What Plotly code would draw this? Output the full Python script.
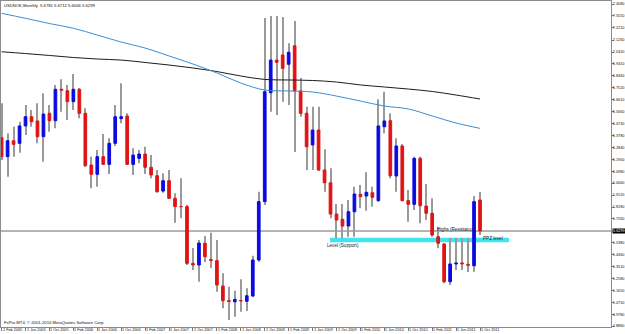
import plotly.graph_objects as go
import pandas as pd

# ---------------- data ----------------
months = [d.strftime("%Y-%m") for d in pd.date_range("2005-02-01", "2011-10-01", freq="MS")]

open_ = [
    6.361, 6.212, 6.337, 6.317, 6.453, 6.525, 6.492, 6.369, 6.552, 6.494,
    6.740, 6.729, 6.643, 6.740, 6.552, 6.147, 6.074, 6.212, 6.152, 6.317,
    6.510, 6.531, 6.152, 6.199, 6.233, 6.129, 6.063, 5.943, 6.024, 5.886,
    5.822, 5.821, 5.376, 5.364, 5.534, 5.407, 5.398, 5.199, 5.086, 5.076,
    5.086, 5.080, 5.121, 5.403, 5.860, 6.713, 6.969, 7.009, 6.936, 7.081,
    6.727, 6.552, 6.304, 6.421, 6.108, 6.008, 5.763, 5.722, 5.669, 5.781,
    5.918, 5.904, 5.930, 5.868, 6.447, 6.494, 6.061, 6.296, 5.868, 5.839,
    6.199, 5.826, 5.769, 5.585, 5.528, 5.233, 5.372, 5.380, 5.369, 5.358,
    5.873]
high = [
    6.630, 6.395, 6.447, 6.486, 6.617, 6.578, 6.630, 6.709, 6.617, 6.774,
    6.818, 6.774, 6.860, 6.750, 6.591, 6.212, 6.265, 6.390, 6.356, 6.617,
    6.787, 6.552, 6.278, 6.265, 6.290, 6.225, 6.108, 6.082, 6.108, 5.925,
    6.043, 5.834, 5.497, 5.560, 5.591, 5.617, 5.560, 5.299, 5.194, 5.163,
    5.252, 5.181, 5.437, 5.938, 7.298, 7.314, 7.314, 7.306, 7.100, 7.275,
    6.828, 6.604, 6.604, 6.604, 6.270, 6.121, 5.842, 5.842, 5.873, 5.977,
    5.990, 6.090, 5.977, 6.662, 6.721, 6.552, 6.356, 6.312, 5.951, 6.212,
    6.212, 5.998, 5.886, 5.664, 5.536, 5.575, 5.575, 5.575, 5.575, 5.904,
    5.935]
low = [
    6.186, 6.055, 6.212, 6.243, 6.382, 6.447, 6.317, 6.173, 6.408, 6.434,
    6.564, 6.499, 6.578, 6.513, 6.131, 5.965, 5.977, 6.147, 6.077, 6.296,
    6.474, 6.147, 6.069, 6.160, 6.077, 6.043, 5.930, 5.930, 5.881, 5.695,
    5.730, 5.364, 5.325, 5.233, 5.387, 5.340, 5.155, 5.025, 4.933, 4.959,
    4.998, 5.004, 5.113, 5.390, 5.834, 6.564, 6.539, 6.643, 6.617, 6.249,
    6.525, 6.108, 6.108, 6.100, 5.938, 5.730, 5.573, 5.573, 5.585, 5.585,
    5.808, 5.789, 5.821, 5.857, 6.395, 6.043, 5.938, 5.861, 5.703, 5.795,
    5.690, 5.716, 5.585, 5.495, 5.220, 5.207, 5.325, 5.325, 5.309, 5.311,
    5.599]
close = [
    6.212, 6.337, 6.309, 6.453, 6.525, 6.486, 6.369, 6.546, 6.494, 6.740,
    6.732, 6.643, 6.740, 6.552, 6.142, 6.074, 6.212, 6.152, 6.317, 6.525,
    6.525, 6.152, 6.225, 6.233, 6.129, 6.069, 5.938, 6.024, 5.886, 5.821,
    5.820, 5.377, 5.364, 5.536, 5.429, 5.399, 5.207, 5.084, 5.078, 5.095,
    5.082, 5.123, 5.403, 5.860, 6.721, 6.969, 6.951, 6.904, 7.030, 6.727,
    6.552, 6.290, 6.421, 6.108, 6.008, 5.763, 5.716, 5.669, 5.781, 5.920,
    5.899, 5.933, 5.894, 6.453, 6.492, 6.063, 6.296, 5.868, 5.839, 6.199,
    5.828, 5.769, 5.599, 5.534, 5.233, 5.372, 5.380, 5.372, 5.361, 5.860,
    5.6299]

# moving averages, read every 4 months
ma_months = months[::4]
ma_fast = [7.335, 7.296, 7.255, 7.218, 7.165, 7.110, 7.063, 7.001, 6.938, 6.868,
           6.789, 6.734, 6.727, 6.719, 6.687, 6.648, 6.609, 6.586, 6.531, 6.476, 6.434]
ma_slow = [7.034, 7.020, 7.005, 6.989, 6.977, 6.969, 6.950, 6.930, 6.907, 6.879,
           6.844, 6.817, 6.813, 6.809, 6.797, 6.774, 6.758, 6.742, 6.723, 6.695, 6.664]

x_tick_labels = ["1 Feb 2005", "1 Jun 2005", "1 Oct 2005", "1 Feb 2006", "1 Jun 2006",
                 "1 Oct 2006", "1 Feb 2007", "1 Jun 2007", "1 Oct 2007", "1 Feb 2008",
                 "1 Jun 2008", "1 Oct 2008", "1 Feb 2009", "1 Jun 2009", "1 Oct 2009",
                 "1 Feb 2010", "1 Jun 2010", "1 Oct 2010", "1 Feb 2011", "1 Jun 2011",
                 "1 Oct 2011"]
y_tick_labels = ["7.4080", "7.3150", "7.2210", "7.1260", "7.0320", "6.9410", "6.8460",
                 "6.7520", "6.6610", "6.5660", "6.4730", "6.3780", "6.2840", "6.1900",
                 "6.0980", "6.0060", "5.9120", "5.8180", "5.7260", "5.5380", "5.4460",
                 "5.3510", "5.2580", "5.1650", "5.0710", "4.9780", "4.8860"]

title_text = "USDNOK,Monthly  5.6781 5.6712 5.6066 5.6299"
copyright_text = "FxPro MT4, © 2001-2010 MetaQuotes Software Corp."
current_price = 5.6299
current_label = "5.6299"
ppz_low, ppz_high = 5.542, 5.578

# ---------------- style ----------------
RED = "#e01414"
BLUE = "#0a0ae0"
WICK = "#9a9a9a"
FONT = "Liberation Sans"
TXT = "#111111"
SMALL = 3.8

body_base = [min(o, c) for o, c in zip(open_, close)]
body_h = [abs(c - o) for o, c in zip(open_, close)]
body_col = [BLUE if c >= o else RED for o, c in zip(open_, close)]
wick_h = [h - l for h, l in zip(high, low)]

fig = go.Figure()
fig.add_trace(go.Bar(x=months, y=wick_h, base=low, width=0.17,
                     marker=dict(color=WICK, line=dict(width=0)), hoverinfo="skip"))
fig.add_trace(go.Bar(x=months, y=body_h, base=body_base, width=0.45,
                     marker=dict(color=body_col, line=dict(color=body_col, width=1))))
fig.add_trace(go.Scatter(x=ma_months, y=ma_slow, mode="lines",
                         line=dict(color="#1c1c1c", width=1, shape="spline")))
fig.add_trace(go.Scatter(x=ma_months, y=ma_fast, mode="lines",
                         line=dict(color="#3a8ed6", width=1, shape="spline")))

fig.add_shape(type="rect", xref="x", yref="y", x0=54.9, x1=84.85, y0=ppz_low, y1=ppz_high,
              fillcolor="#40e4f0", line=dict(width=0), layer="below")
fig.add_shape(type="line", xref="paper", yref="y", x0=0, x1=1, y0=current_price, y1=current_price,
              line=dict(color="#6a6a6a", width=1), layer="below")

ann_font = dict(family=FONT, size=4.6, color="#222222")
fig.add_annotation(x=54.1, y=5.513, xref="x", yref="y", text="Level (Support)",
                   showarrow=False, xanchor="left", yanchor="middle", font=ann_font)
fig.add_annotation(x=72.5, y=5.644, xref="x", yref="y", text="Highs (Resistance)",
                   showarrow=False, xanchor="left", yanchor="middle", font=ann_font)
fig.add_annotation(x=80.2, y=5.570, xref="x", yref="y", text="PPZ level",
                   showarrow=False, xanchor="left", yanchor="middle", font=ann_font)
fig.add_annotation(x=0, y=1, xref="paper", yref="paper", text=title_text, showarrow=False,
                   xanchor="left", yanchor="top", xshift=1, yshift=0,
                   font=dict(family=FONT, size=4.2, color=TXT))
fig.add_annotation(x=0, y=0, xref="paper", yref="paper", text=copyright_text, showarrow=False,
                   xanchor="left", yanchor="bottom", xshift=1, yshift=0,
                   font=dict(family=FONT, size=4.2, color=TXT))
fig.add_annotation(x=1, y=current_price, xref="paper", yref="y", text=current_label,
                   showarrow=False, xanchor="left", yanchor="middle", xshift=1,
                   bgcolor="#000000", borderpad=0,
                   font=dict(family=FONT, size=SMALL, color="#ffffff"))

# bottom time labels, left-aligned at their tick
for m, lab in zip(months[::4], x_tick_labels):
    fig.add_annotation(x=m, y=0, xref="x", yref="paper", text=lab, showarrow=False,
                       xanchor="left", yanchor="top", xshift=0, yshift=0, borderpad=0,
                       font=dict(family=FONT, size=SMALL, color=TXT))

fig.update_layout(
    width=625, height=334,
    margin=dict(l=1, r=14, t=1, b=7, autoexpand=False),
    paper_bgcolor="white", plot_bgcolor="white",
    barmode="overlay", showlegend=False,
    xaxis=dict(type="category", range=[-0.1, 101.9], showgrid=False, zeroline=False,
               automargin=False,
               tickvals=months[::4], ticktext=["" for _ in x_tick_labels],
               ticks="outside", ticklen=3, tickcolor="#777777",
               showline=True, linecolor="#8c8c8c", linewidth=1, mirror=True),
    yaxis=dict(side="right", range=[4.8783, 7.4315], showgrid=False, zeroline=False,
               automargin=False,
               tickvals=[float(v) for v in y_tick_labels], ticktext=y_tick_labels,
               ticks="outside", ticklen=2, tickcolor="#777777", ticklabelstandoff=-2,
               tickfont=dict(family=FONT, size=SMALL, color=TXT),
               showline=True, linecolor="#8c8c8c", linewidth=1, mirror=True),
)

fig.write_html("out.html")
